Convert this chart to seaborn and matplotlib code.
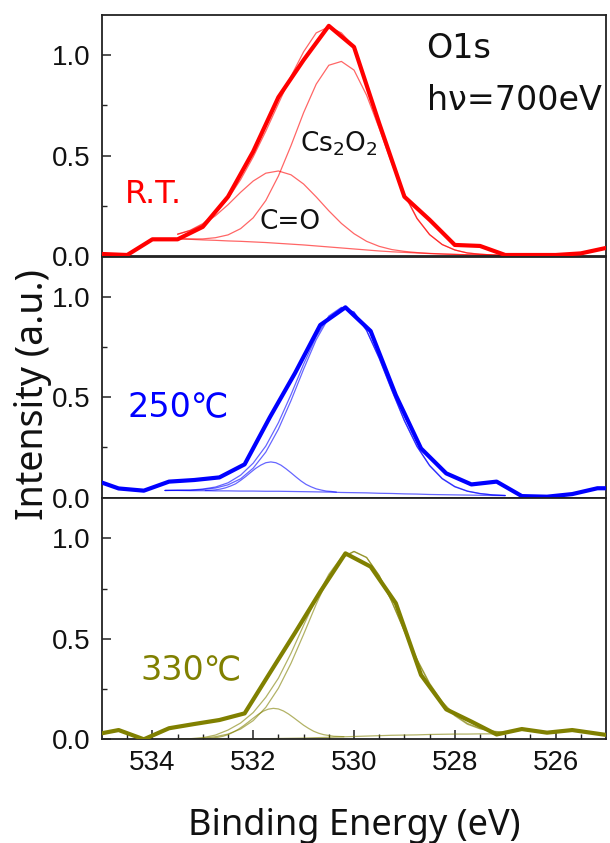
import matplotlib
matplotlib.use("Agg")
import matplotlib.pyplot as plt
import seaborn as sns
from matplotlib.ticker import FixedLocator
from matplotlib import font_manager as fm

# ---------------- data ----------------
# measured spectra
energy_rt = [535.0, 534.5, 534.0, 533.5, 533.0, 532.5, 532.0, 531.5, 531.0, 530.5, 530.0,
             529.5, 529.0, 528.5, 528.0, 527.5, 527.0, 526.5, 526.0, 525.5, 525.0]
int_rt = [0.01, 0.005, 0.083, 0.083, 0.145, 0.295, 0.52, 0.79, 0.975, 1.145, 1.04,
          0.66, 0.295, 0.18, 0.055, 0.05, 0.005, 0.005, 0.005, 0.013, 0.04]

energy_ht = [535.17, 534.67, 534.17, 533.67, 533.17, 532.67, 532.17, 531.67, 531.17, 530.67, 530.17,
             529.67, 529.17, 528.67, 528.17, 527.67, 527.17, 526.67, 526.17, 525.67, 525.17, 524.67]
int_250 = [0.09, 0.046, 0.035, 0.080, 0.088, 0.101, 0.166, 0.40, 0.62, 0.859, 0.947,
           0.829, 0.51, 0.245, 0.121, 0.066, 0.080, 0.008, 0.005, 0.018, 0.047, 0.047]
int_330 = [0.022, 0.046, 0.0, 0.055, 0.076, 0.096, 0.129, 0.33, 0.53, 0.734, 0.925,
           0.859, 0.677, 0.32, 0.149, 0.088, 0.024, 0.051, 0.033, 0.046, 0.028, 0.01]

# fitted components, R.T.
fit_e1 = [533.5, 533.25, 533.0, 532.75, 532.5, 532.25, 532.0, 531.75, 531.5, 531.25, 531.0,
          530.75, 530.5, 530.25, 530.0, 529.75, 529.5, 529.25, 529.0, 528.75, 528.5, 528.25,
          528.0, 527.75, 527.5, 527.25, 527.0]
bg_rt = [0.085, 0.083, 0.080, 0.078, 0.075, 0.073, 0.070, 0.067, 0.063, 0.059, 0.055, 0.050,
         0.045, 0.040, 0.035, 0.030, 0.025, 0.021, 0.018, 0.015, 0.012, 0.010, 0.008, 0.006,
         0.005, 0.004, 0.003]
co_rt = [0.108, 0.126, 0.156, 0.200, 0.255, 0.317, 0.373, 0.412, 0.423, 0.404, 0.358, 0.294,
         0.225, 0.162, 0.111, 0.073, 0.048, 0.032, 0.023, 0.017, 0.013, 0.010, 0.008, 0.006,
         0.005, 0.004, 0.003]
cs_rt = [0.086, 0.085, 0.085, 0.091, 0.105, 0.136, 0.190, 0.276, 0.398, 0.549, 0.713, 0.855,
         0.949, 0.968, 0.925, 0.800, 0.635, 0.460, 0.305, 0.186, 0.106, 0.057, 0.030, 0.015,
         0.009, 0.005, 0.003]
env_rt = [0.109, 0.128, 0.161, 0.213, 0.285, 0.380, 0.493, 0.621, 0.758, 0.894, 1.016, 1.110,
          1.140, 1.110, 1.040, 0.860, 0.660, 0.470, 0.310, 0.188, 0.107, 0.057, 0.030, 0.015,
          0.009, 0.005, 0.003]

# fitted components, 250 C
fit_e2 = [533.75] + fit_e1
bg_250 = [0.036, 0.036, 0.035, 0.035, 0.034, 0.034, 0.033, 0.033, 0.032, 0.032, 0.031, 0.030,
          0.029, 0.028, 0.026, 0.025, 0.024, 0.022, 0.021, 0.019, 0.018, 0.016, 0.015, 0.014,
          0.013, 0.012, 0.011, 0.010]
main_250 = [0.036, 0.037, 0.037, 0.041, 0.048, 0.064, 0.094, 0.147, 0.227, 0.341, 0.483, 0.639,
            0.786, 0.896, 0.944, 0.922, 0.831, 0.693, 0.534, 0.382, 0.254, 0.159, 0.094, 0.054,
            0.032, 0.020, 0.014, 0.011]
env_250 = [0.036, 0.037, 0.038, 0.043, 0.053, 0.074, 0.112, 0.172, 0.257, 0.373, 0.513, 0.664,
           0.801, 0.904, 0.947, 0.924, 0.833, 0.695, 0.536, 0.384, 0.256, 0.161, 0.096, 0.056,
           0.033, 0.021, 0.014, 0.011]
small_e2 = [532.95, 532.85, 532.75, 532.65, 532.55, 532.45, 532.35, 532.25, 532.15, 532.05,
            531.95, 531.85, 531.75, 531.65, 531.55, 531.45, 531.35, 531.25, 531.15, 531.05,
            530.95, 530.85, 530.75, 530.65, 530.55, 530.45, 530.35]
small_250 = [0.036, 0.037, 0.039, 0.043, 0.049, 0.058, 0.069, 0.086, 0.105, 0.126, 0.146, 0.162,
             0.174, 0.178, 0.174, 0.162, 0.144, 0.124, 0.103, 0.083, 0.066, 0.054, 0.044, 0.038,
             0.033, 0.031, 0.028]

# fitted components, 330 C
bg_330 = [0.0, 0.0, 0.0, 0.001, 0.001, 0.002, 0.002, 0.003, 0.004, 0.005, 0.006, 0.008, 0.010,
          0.012, 0.014, 0.016, 0.018, 0.020, 0.021, 0.022, 0.024, 0.025, 0.026, 0.026, 0.027,
          0.027, 0.028]
main_330 = [0.001, 0.002, 0.005, 0.013, 0.026, 0.051, 0.093, 0.159, 0.254, 0.378, 0.522, 0.672,
            0.806, 0.900, 0.934, 0.904, 0.814, 0.684, 0.537, 0.395, 0.274, 0.181, 0.117, 0.075,
            0.052, 0.039, 0.033]
env_330 = [0.001, 0.003, 0.008, 0.021, 0.046, 0.081, 0.133, 0.209, 0.304, 0.428, 0.567, 0.702,
           0.821, 0.905, 0.935, 0.905, 0.815, 0.686, 0.540, 0.399, 0.279, 0.186, 0.122, 0.079,
           0.055, 0.041, 0.034]
small_e3 = [533.0, 532.9, 532.8, 532.7, 532.6, 532.5, 532.4, 532.3, 532.2, 532.1, 532.0, 531.9,
            531.8, 531.7, 531.6, 531.5, 531.4, 531.3, 531.2, 531.1, 531.0, 530.9, 530.8, 530.7,
            530.6, 530.5, 530.4, 530.3, 530.2]
small_330 = [0.002, 0.003, 0.006, 0.010, 0.015, 0.023, 0.035, 0.049, 0.066, 0.085, 0.105, 0.124,
             0.140, 0.150, 0.154, 0.151, 0.141, 0.126, 0.108, 0.089, 0.070, 0.054, 0.040, 0.030,
             0.023, 0.019, 0.015, 0.014, 0.013]

x_ticks = [534, 532, 530, 528, 526]
y_ticks = [0.0, 0.5, 1.0]
panel_labels = ["R.T.", "250℃", "330℃"]

# ---------------- style ----------------
sns.set_style("ticks")
names = {f.name for f in fm.fontManager.ttflist}
tick_font = "Liberation Sans Narrow" if "Liberation Sans Narrow" in names else "Liberation Sans"
tick_size = 23 if tick_font == "Liberation Sans Narrow" else 20
plt.rcParams["font.family"] = ["DejaVu Sans", "Noto Sans CJK JP"]
plt.rcParams["mathtext.default"] = "regular"

RED = "#ff0000"
BLUE = "#0000ff"
OLIVE = "#808000"
SPINE = "#222222"

fig = plt.figure(figsize=(6.10, 8.43), dpi=100)
left, width = 102 / 610, 504 / 610
h = 241.2 / 843
bottoms = [1 - 256 / 843, 1 - 497.7 / 843, 1 - 739.3 / 843]
axes = [fig.add_axes([left, b, width, h]) for b in bottoms]


def line(ax, x, y, color, lw, alpha=1.0, z=2):
    sns.lineplot(x=x, y=y, ax=ax, color=color, linewidth=lw, alpha=alpha,
                 sort=False, estimator=None, legend=False, zorder=z)


thin = 0.9
ta = 0.6

ax = axes[0]
for comp in (bg_rt, co_rt, cs_rt, env_rt):
    line(ax, fit_e1, comp, RED, thin, ta, 2)
line(ax, energy_rt, int_rt, RED, 3.0, 1.0, 3)

ax = axes[1]
line(ax, fit_e2, bg_250, BLUE, thin, ta, 2)
line(ax, small_e2, small_250, BLUE, thin, ta, 2)
line(ax, fit_e2, main_250, BLUE, thin, ta, 2)
line(ax, fit_e2, env_250, BLUE, thin, ta, 2)
line(ax, energy_ht, int_250, BLUE, 3.0, 1.0, 3)

ax = axes[2]
line(ax, fit_e1, bg_330, OLIVE, thin, ta, 2)
line(ax, small_e3, small_330, OLIVE, thin, ta, 2)
line(ax, fit_e1, main_330, OLIVE, thin, ta, 2)
line(ax, fit_e1, env_330, OLIVE, thin, ta, 2)
line(ax, energy_ht, int_330, OLIVE, 3.0, 1.0, 3)

for i, ax in enumerate(axes):
    ax.set_xlim(535, 525)
    ax.set_ylim(0, 1.2)
    ax.set_xlabel("")
    ax.set_ylabel("")
    for s in ax.spines.values():
        s.set_visible(True)
        s.set_color(SPINE)
        s.set_linewidth(1.3)
    ax.yaxis.set_major_locator(FixedLocator(y_ticks))
    ax.yaxis.set_minor_locator(FixedLocator([0.25, 0.75]))
    ax.set_yticklabels([f"{v:.1f}" for v in y_ticks], fontfamily=tick_font, fontsize=tick_size,
                       color="#111111")
    ax.tick_params(axis="y", which="major", direction="in", length=6.5, width=1.1,
                   color=SPINE, pad=8, left=True, right=False)
    ax.tick_params(axis="y", which="minor", direction="in", length=3.5, width=1.0,
                   color=SPINE, left=True, right=False)
    if i < 2:
        ax.tick_params(axis="x", which="both", bottom=False, top=False, labelbottom=False)
    else:
        ax.xaxis.set_major_locator(FixedLocator(x_ticks))
        ax.xaxis.set_minor_locator(FixedLocator([534.5 - 0.5 * k for k in range(19)]))
        ax.set_xticklabels([str(v) for v in x_ticks], fontfamily=tick_font, fontsize=tick_size,
                           color="#111111")
        ax.tick_params(axis="x", which="major", direction="in", length=6.5, width=1.1,
                       color=SPINE, pad=8, bottom=True, top=False)
        ax.tick_params(axis="x", which="minor", direction="in", length=3.5, width=1.0,
                       color=SPINE, bottom=True, top=False)

# annotations
axes[0].text(528.56, 1.03, "O1s", fontsize=24, color="#111111", ha="left", va="center")
axes[0].text(528.56, 0.776, "hν=700eV", fontsize=24, color="#111111", ha="left", va="center")
axes[0].text(530.30, 0.56, "Cs$_2$O$_2$", fontsize=19, color="#111111", ha="center", va="center")
axes[0].text(531.26, 0.169, "C=O", fontsize=19, color="#111111", ha="center", va="center")
axes[0].text(533.97, 0.308, panel_labels[0], fontsize=23, color=RED, ha="center", va="center")
axes[1].text(533.48, 0.451, panel_labels[1], fontsize=24, color=BLUE, ha="center", va="center")
axes[2].text(533.24, 0.345, panel_labels[2], fontsize=24, color=OLIVE, ha="center", va="center")

fig.text(354 / 610, 1 - 835 / 843, "Binding Energy (eV)", fontsize=26, family=["Noto Sans", "DejaVu Sans"],
         ha="center", va="baseline", color="#111111")
fig.text(33 / 610, 1 - 395 / 843, "Intensity (a.u.)", fontsize=27, family=["Noto Sans", "DejaVu Sans"],
         rotation=90, ha="center", va="center", color="#111111")

fig.savefig("out.png", dpi=100)
